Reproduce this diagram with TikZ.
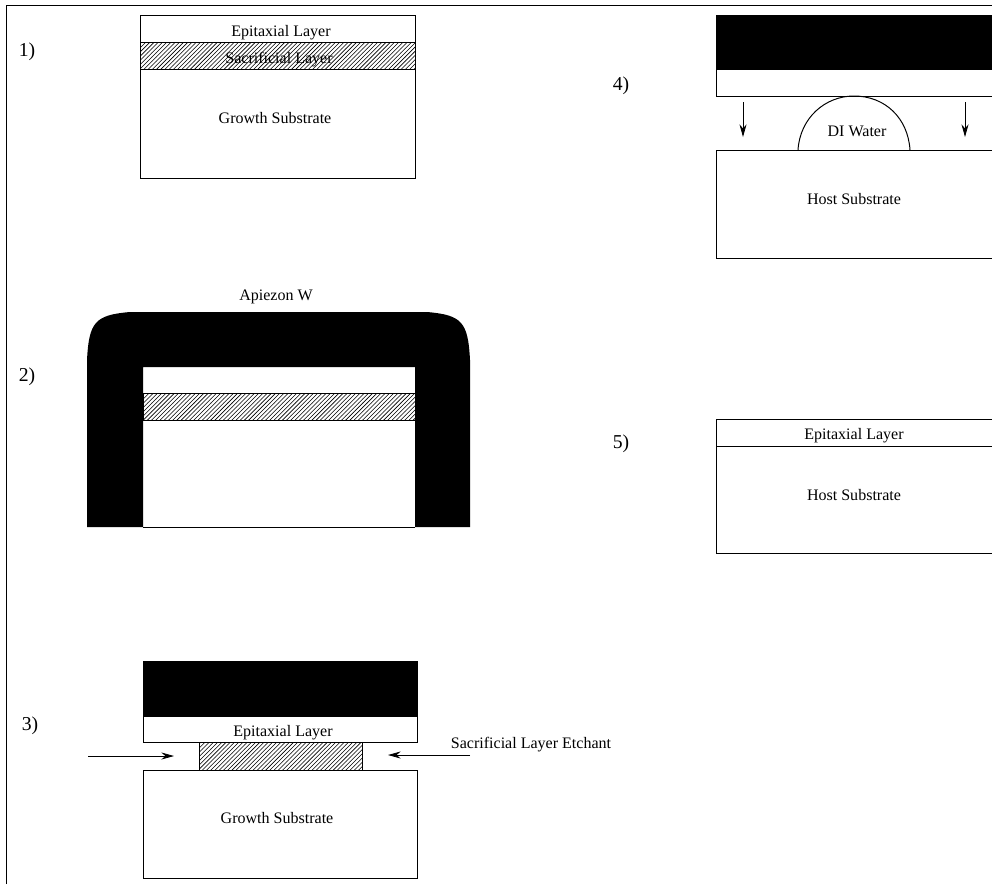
\documentclass[tikz,border=0pt]{standalone}
\usepackage{fontspec}
\setmainfont{Liberation Serif}
\usetikzlibrary{patterns,arrows.meta}
\tikzset{
  layerline/.style={line width=0.7pt,black},
  etchlayer/.style={layerline,pattern=north east lines},
  waxlayer/.style={fill=black,draw=black},
  pushline/.style={line width=0.6pt,-{Stealth[length=9pt,width=5pt]}},
  caption/.style={font=\fontsize{11.4}{13}\selectfont,inner sep=0pt,anchor=base},
  stepnum/.style={font=\fontsize{14}{16}\selectfont,inner sep=0pt,anchor=base}
}
\begin{document}
\begin{tikzpicture}[x=0.025cm,y=-0.025cm]
    \useasboundingbox (0,0) rectangle (992,884);
    \clip (0,0) rectangle (992,884);
    \fill[white] (0,0) rectangle (992,884);

    % Frame (left and top only)
    \coordinate (FB) at (6,884);
    \coordinate (FA) at (6,5);
    \coordinate (FC) at (992,5);
    \draw[line width=0.7pt] (FB) -- (FA) -- (FC);

    % Step 1
    \draw[layerline] (140,15) rectangle (415,178);
    \draw[etchlayer] (140,42) rectangle (415,69);
    \node[stepnum] (numA) at (27,56) {1)};
    \node[caption] (epiA) at (281,36) {Epitaxial Layer};
    \node[caption] (sacA) at (279,63) {Sacrificial Layer};
    \node[caption] (groA) at (275,123) {Growth Substrate};

    % Step 2
    \fill[black] (87,527) -- (87,360) .. controls (89,322) and (95,315) .. (130,312)
        -- (427,312) .. controls (462,315) and (468,322) .. (470,360) -- (470,527)
        -- (415,527) -- (415,367) -- (143,367) -- (143,527) -- cycle;
    \draw[layerline] (143,527) -- (415,527);
    \draw[etchlayer] (143,393) rectangle (415,420);
    \node[stepnum] (numB) at (27,381) {2)};
    \node[caption] (apiB) at (276,300) {Apiezon W};

    % Step 3
    \draw[waxlayer] (143,661) rectangle (417,716);
    \draw[layerline] (143,716) rectangle (417,742);
    \draw[etchlayer] (199,742) rectangle (362,770);
    \draw[layerline] (143,770) rectangle (417,878);
    \node[stepnum] (numC) at (30,730) {3)};
    \node[caption] (epiC) at (283,736) {Epitaxial Layer};
    \node[caption] (groC) at (277,823) {Growth Substrate};
    \node[caption] (etcC) at (531,748) {Sacrificial Layer Etchant};
    \coordinate (LA) at (88,756);
    \coordinate (LB) at (174,756);
    \coordinate (RA) at (470,755);
    \coordinate (RB) at (388,755);
    \draw[pushline] (LA) -- (LB);
    \draw[pushline] (RA) -- (RB);

    % Step 4
    \draw[waxlayer] (716,15) rectangle (996,69);
    \draw[layerline] (716,69) rectangle (996,96);
    \draw[layerline] (716,150) rectangle (996,258);
    \draw[layerline] (798,150) .. controls (800,118) and (825,96) .. (854,96)
        .. controls (885,96) and (908,118) .. (910,150);
    \node[stepnum] (numD) at (621,90) {4)};
    \node[caption] (watD) at (857,136) {DI Water};
    \node[caption] (hosD) at (854,204) {Host Substrate};
    \coordinate (DA) at (743,102);
    \coordinate (DB) at (743,137);
    \coordinate (EA) at (965,102);
    \coordinate (EB) at (965,137);
    \draw[pushline] (DA) -- (DB);
    \draw[pushline] (EA) -- (EB);

    % Step 5
    \draw[layerline] (716,419) rectangle (996,553);
    \draw[layerline] (716,446) -- (996,446);
    \node[stepnum] (numE) at (621,448) {5)};
    \node[caption] (epiE) at (854,439) {Epitaxial Layer};
    \node[caption] (hosE) at (854,500) {Host Substrate};
\end{tikzpicture}
\end{document}
